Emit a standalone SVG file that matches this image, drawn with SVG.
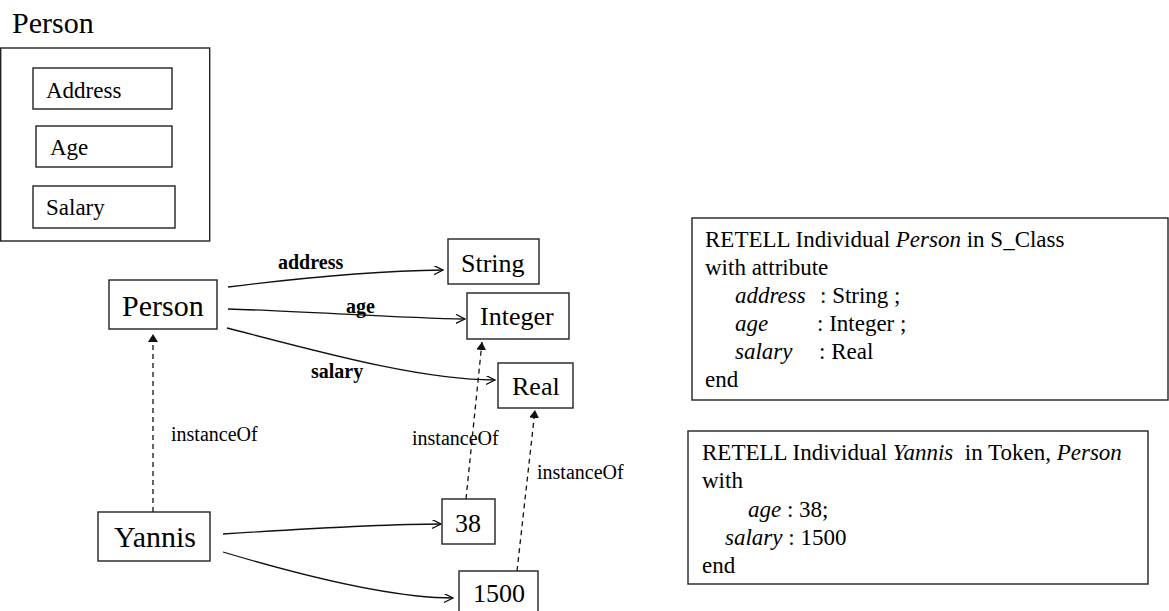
<svg xmlns="http://www.w3.org/2000/svg" width="1169" height="611" viewBox="0 0 1169 611" font-family="'Liberation Serif', 'Times New Roman', Times, serif">
  <style>
    text { font-family: "Liberation Serif", "Times New Roman", Times, serif; fill: #000; }
    .box { fill: #fff; stroke: #222; stroke-width: 1.4; }
    .node { font-size: 26px; }
    .big { font-size: 30px; }
    .attr { font-size: 23px; }
    .elabel { font-size: 20px; font-weight: bold; }
    .ilabel { font-size: 20px; }
    .code { font-size: 23px; }
    .it { font-style: italic; }
    .edge { fill: none; stroke: #111; stroke-width: 1.3; marker-end: url(#open); }
    .inst { fill: none; stroke: #111; stroke-width: 1.3; stroke-dasharray: 5 4; marker-end: url(#filled); }
  </style>
  <defs>
    <marker id="open" markerUnits="userSpaceOnUse" markerWidth="12" markerHeight="12" refX="9" refY="4.5" orient="auto">
      <path d="M0,0 L9,4.5 L0,9" fill="none" stroke="#111" stroke-width="1.3"/>
    </marker>
    <marker id="filled" markerUnits="userSpaceOnUse" markerWidth="12" markerHeight="12" refX="8" refY="5" orient="auto">
      <path d="M0,0 L8,5 L0,10 Z" fill="#111"/>
    </marker>
  </defs>

  <!-- Person class with its attribute compartments -->
  <g id="person-class">
    <text x="12" y="33" class="big">Person</text>
    <rect class="box" x="0.7" y="48" width="209" height="193"/>
    <g id="attr-address">
      <rect class="box" x="33" y="68" width="139" height="41"/>
      <text x="46" y="98" class="attr">Address</text>
    </g>
    <g id="attr-age">
      <rect class="box" x="36" y="126" width="136" height="41"/>
      <text x="50" y="155" class="attr">Age</text>
    </g>
    <g id="attr-salary">
      <rect class="box" x="33" y="186" width="142" height="42"/>
      <text x="46" y="215" class="attr">Salary</text>
    </g>
  </g>

  <!-- connectors -->
  <g id="connectors">
    <path class="edge" d="M228,287 C300,278 380,271 443,270"/>
    <path class="edge" d="M228,309 C300,311 400,318 465,319"/>
    <path class="edge" d="M227,328 C320,352 420,380 495,380"/>
    <path class="edge" d="M223,534 C300,529 380,524 441,524"/>
    <path class="edge" d="M223,552 C300,575 390,598 453,598"/>
    <path class="inst" d="M153,512 L153,334"/>
    <path class="inst" d="M466,499 L482,342"/>
    <path class="inst" d="M517,571 L535,410"/>
    <text x="278" y="269" class="elabel">address</text>
    <text x="346" y="313" class="elabel">age</text>
    <text x="311" y="378" class="elabel">salary</text>
    <text x="171" y="441" class="ilabel">instanceOf</text>
    <text x="412" y="445" class="ilabel">instanceOf</text>
    <text x="537" y="479" class="ilabel">instanceOf</text>
  </g>

  <!-- nodes -->
  <g id="node-person">
    <rect class="box" x="109" y="280" width="108" height="49"/>
    <text x="122" y="316" class="big">Person</text>
  </g>
  <g id="node-string">
    <rect class="box" x="448" y="239" width="91" height="45"/>
    <text x="461" y="272" class="node">String</text>
  </g>
  <g id="node-integer">
    <rect class="box" x="467" y="293" width="102" height="46"/>
    <text x="480" y="325" class="node">Integer</text>
  </g>
  <g id="node-real">
    <rect class="box" x="498" y="363" width="75" height="45"/>
    <text x="512" y="395" class="node">Real</text>
  </g>
  <g id="node-yannis">
    <rect class="box" x="98" y="512" width="112" height="49"/>
    <text x="114" y="547" class="big">Yannis</text>
  </g>
  <g id="node-38">
    <rect class="box" x="442" y="499" width="53" height="45"/>
    <text x="455" y="532" class="node">38</text>
  </g>
  <g id="node-1500">
    <rect class="box" x="459" y="571" width="79" height="50"/>
    <text x="473" y="602" class="node">1500</text>
  </g>

  <!-- Telos frame definitions -->
  <g id="frame-person">
    <rect class="box" x="692" y="218" width="476" height="182"/>
    <text class="code" x="705" y="247">RETELL Individual <tspan class="it">Person</tspan> in S_Class</text>
    <text class="code" x="705" y="275">with attribute</text>
    <text class="code" y="303"><tspan class="it" x="735">address</tspan><tspan x="820">: String ;</tspan></text>
    <text class="code" y="331"><tspan class="it" x="735">age</tspan><tspan x="817">: Integer ;</tspan></text>
    <text class="code" y="359"><tspan class="it" x="735">salary</tspan><tspan x="819">: Real</tspan></text>
    <text class="code" x="705" y="387">end</text>
  </g>
  <g id="frame-yannis">
    <rect class="box" x="688" y="431" width="460" height="153"/>
    <text class="code" x="702" y="460" xml:space="preserve">RETELL Individual <tspan class="it">Yannis</tspan>  in Token, <tspan class="it">Person</tspan></text>
    <text class="code" x="702" y="488">with</text>
    <text class="code" x="748" y="517"><tspan class="it">age</tspan> : 38;</text>
    <text class="code" x="725" y="545"><tspan class="it">salary</tspan> : 1500</text>
    <text class="code" x="702" y="573">end</text>
  </g>
</svg>
